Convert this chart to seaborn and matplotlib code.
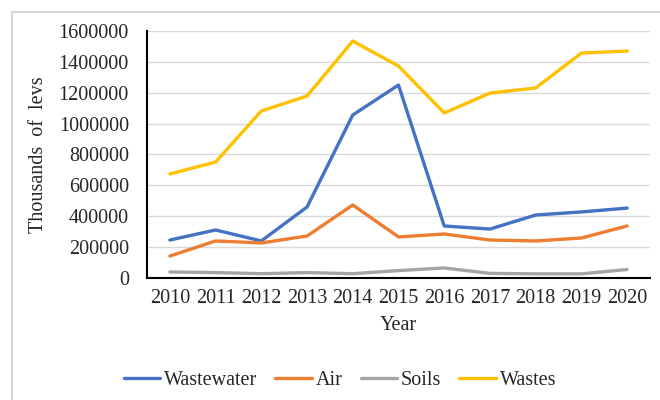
import matplotlib
matplotlib.use('Agg')
import matplotlib.pyplot as plt
import numpy as np
import pandas as pd
import seaborn as sns

years = [2010, 2011, 2012, 2013, 2014, 2015, 2016, 2017, 2018, 2019, 2020]
wastewater = [246000, 311000, 240000, 460000, 1056000, 1250000, 337000, 317000, 408000, 428000, 453000]
air = [142000, 240000, 227000, 272000, 473000, 266000, 285000, 246000, 240000, 259000, 337000]
soils = [39000, 35000, 28000, 35000, 28000, 48000, 65000, 30000, 27000, 27000, 55000]
wastes = [674000, 751000, 1082000, 1179000, 1535000, 1373000, 1069000, 1198000, 1231000, 1457000, 1470000]

series_names = ['Wastewater', 'Air', 'Soils', 'Wastes']
colors = ['#4472C4', '#ED7D31', '#A5A5A5', '#FFC000']

df = pd.DataFrame({
    'Year': years * 4,
    'Value': wastewater + air + soils + wastes,
    'Series': np.repeat(series_names, len(years)),
})

sns.set_theme(style='white')
plt.rcParams['font.family'] = ['Liberation Serif', 'DejaVu Serif']
fs = 14.5

fig = plt.figure(figsize=(6.6, 4.0), dpi=100)
ax = fig.add_axes([147 / 660, 1 - 278 / 400, (650 - 147) / 660, (278 - 31) / 400])

# outer chart frame: only left and top edges show in the cropped original
fx, fy = 11.5 / 660, 1 - 11.5 / 400
fig.add_artist(plt.Line2D([fx, fx], [0, fy], transform=fig.transFigure, color='#d0d0d0', linewidth=1.2))
fig.add_artist(plt.Line2D([fx, 1], [fy, fy], transform=fig.transFigure, color='#d0d0d0', linewidth=1.2))

sns.lineplot(data=df, x='Year', y='Value', hue='Series', hue_order=series_names,
             palette=colors, linewidth=2.4, ax=ax, legend=False)

ax.set_xlim(2009.5, 2020.5)
ax.set_ylim(0, 1600000)
ax.set_xticks(years)
ax.set_xticklabels([str(y) for y in years])
ax.set_yticks(np.arange(0, 1600001, 200000))
ax.set_yticklabels([str(v) for v in range(0, 1600001, 200000)])
ax.yaxis.grid(True, color='#d9d9d9', linewidth=1)
ax.xaxis.grid(False)
for s in ['top', 'right']:
    ax.spines[s].set_visible(False)
for s in ['left', 'bottom']:
    ax.spines[s].set_color('black')
    ax.spines[s].set_linewidth(1.5)
ax.tick_params(axis='y', length=0, pad=13, labelsize=fs)
ax.tick_params(axis='x', length=0, pad=8, labelsize=fs)
ax.set_xlabel('Year', fontsize=fs, labelpad=6)
ax.set_ylabel('Thousands  of  levs', fontsize=fs, labelpad=8)

handles = [plt.Line2D([], [], color=c, linewidth=2.4) for c in colors]
fig.legend(handles, series_names, loc='center', bbox_to_anchor=(0.515, 0.05), ncol=4,
           frameon=False, fontsize=fs, handlelength=1.8, handletextpad=0.2, columnspacing=0.9)

fig.savefig('out.png', dpi=100)
